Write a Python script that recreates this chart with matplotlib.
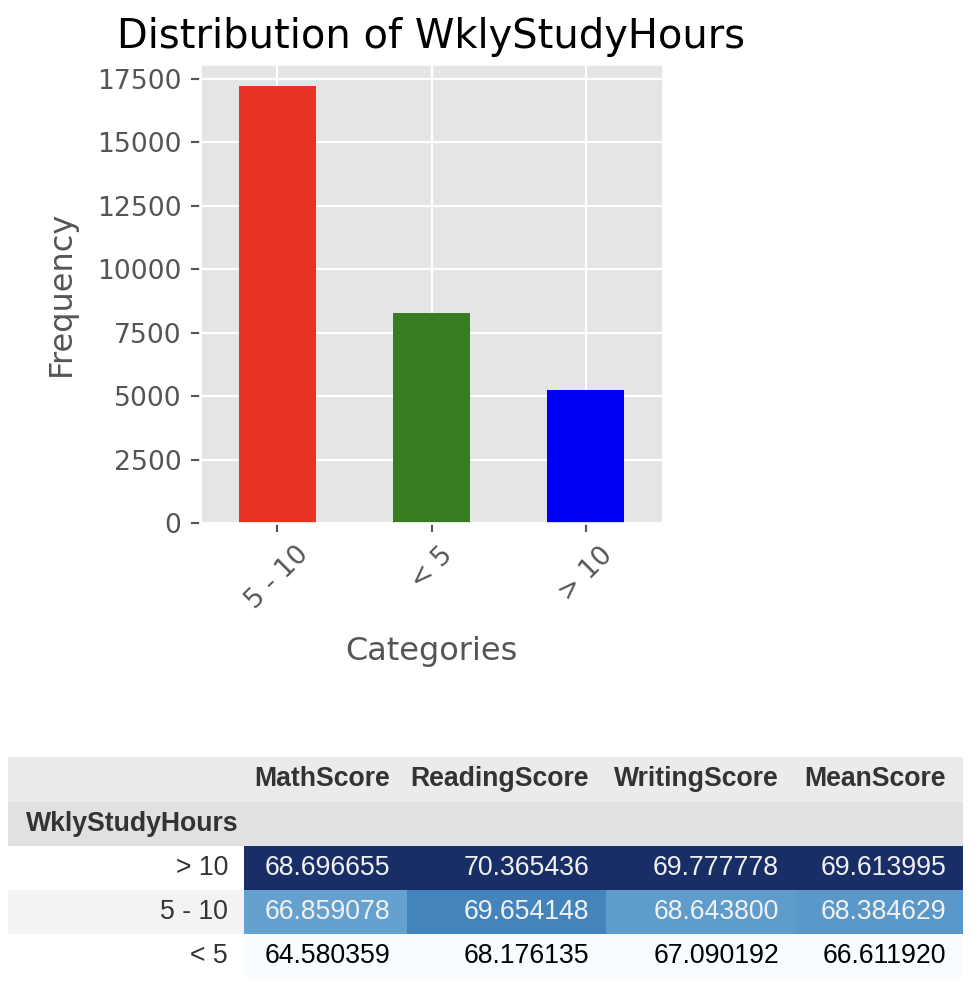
import matplotlib
matplotlib.use("Agg")
import matplotlib.pyplot as plt
import numpy as np
from matplotlib.patches import Rectangle

# ---- data ----
categories = ["5 - 10", "< 5", "> 10"]
frequencies = [17214, 8280, 5224]
bar_colors = ["#e83323", "#387c22", "#0000f5"]

table_index = ["> 10", "5 - 10", "< 5"]
table_columns = ["MathScore", "ReadingScore", "WritingScore", "MeanScore"]
math_score = [68.696655, 66.859078, 64.580359]
reading_score = [70.365436, 69.654148, 68.176135]
writing_score = [69.777778, 68.643800, 67.090192]
mean_score = [69.613995, 68.384629, 66.611920]
index_name = "WklyStudyHours"

# ---- figure ----
plt.style.use("ggplot")
W, H, DPI = 978, 986, 192
fig = plt.figure(figsize=(W / DPI, H / DPI), dpi=DPI)
fig.patch.set_facecolor("white")

ax = fig.add_axes([200 / W, 1 - 523 / H, 463 / W, 459 / H])
x = np.arange(len(categories))
ax.bar(x, frequencies, width=0.5, color=bar_colors)
ax.set_xlim(-0.5, len(categories) - 0.5)
ax.set_xticks(x)
ax.set_xticklabels(categories, rotation=45)
ax.set_yticks(np.arange(0, 17501, 2500))
ax.set_title("Distribution of WklyStudyHours", fontsize=15, pad=6)
ax.set_xlabel("Categories", labelpad=8)
ax.set_ylabel("Frequency", labelpad=7.5)

# ---- styled table ----
tax = fig.add_axes([0, 0, 1, 1])
tax.set_xlim(0, W)
tax.set_ylim(H, 0)
tax.axis("off")

col_edges = [8, 244, 407, 606, 796, 963]
row_edges = [757, 802, 846, 890, 934, 978]
pad = 17
tfont = ["Liberation Sans", "DejaVu Sans"]
fs = 10

def cell(c0, c1, r0, r1, color):
    tax.add_patch(Rectangle((c0, r0), c1 - c0, r1 - r0, facecolor=color,
                            edgecolor="none", linewidth=0))

# header rows
cell(col_edges[0], col_edges[-1], row_edges[0], row_edges[1], "#ebebeb")
cell(col_edges[0], col_edges[-1], row_edges[1], row_edges[2], "#e1e1e1")
for j, name in enumerate(table_columns):
    tax.text(col_edges[j + 2] - pad, (row_edges[0] + row_edges[1]) / 2, name,
             ha="right", va="center", fontsize=fs, fontweight="bold",
             color="#333333", family=tfont)
tax.text(col_edges[0] + 18, (row_edges[1] + row_edges[2]) / 2, index_name,
         ha="left", va="center", fontsize=fs, fontweight="bold",
         color="#333333", family=tfont)

cols = [math_score, reading_score, writing_score, mean_score]
cmap = plt.get_cmap("Blues")

def luminance(rgba):
    def f(c):
        return c / 12.92 if c <= 0.04045 else ((c + 0.055) / 1.055) ** 2.4
    r, g, b = rgba[:3]
    return 0.2126 * f(r) + 0.7152 * f(g) + 0.0722 * f(b)

def screen_shift(rgba):
    # mimic the slightly warmer rendering of the reference screenshot
    r, g, b, a = rgba
    r = min(1.0, r + 0.07 * (1 - r))
    b = max(0.0, b - 0.03 * (1 - b))
    g = max(0.0, g - 0.01 * (1 - g))
    return (r, g, b, a)

for i, lab in enumerate(table_index):
    r0, r1 = row_edges[i + 2], row_edges[i + 3]
    idx_bg = "#f3f3f3" if i % 2 == 1 else "white"
    cell(col_edges[0], col_edges[1], r0, r1, idx_bg)
    tax.text(col_edges[1] - 16, (r0 + r1) / 2, lab, ha="right", va="center",
             fontsize=fs, color="#333333", family=tfont)
    for j, vals in enumerate(cols):
        vmin, vmax = min(vals), max(vals)
        rgba = cmap((vals[i] - vmin) / (vmax - vmin))
        tc = "#f1f1f1" if luminance(rgba) < 0.408 else "#000000"
        cell(col_edges[j + 1], col_edges[j + 2], r0, r1, screen_shift(rgba))
        tax.text(col_edges[j + 2] - pad, (r0 + r1) / 2, f"{vals[i]:.6f}",
                 ha="right", va="center", fontsize=fs, color=tc, family=tfont)

fig.savefig("out.png", dpi=DPI, facecolor="white")
